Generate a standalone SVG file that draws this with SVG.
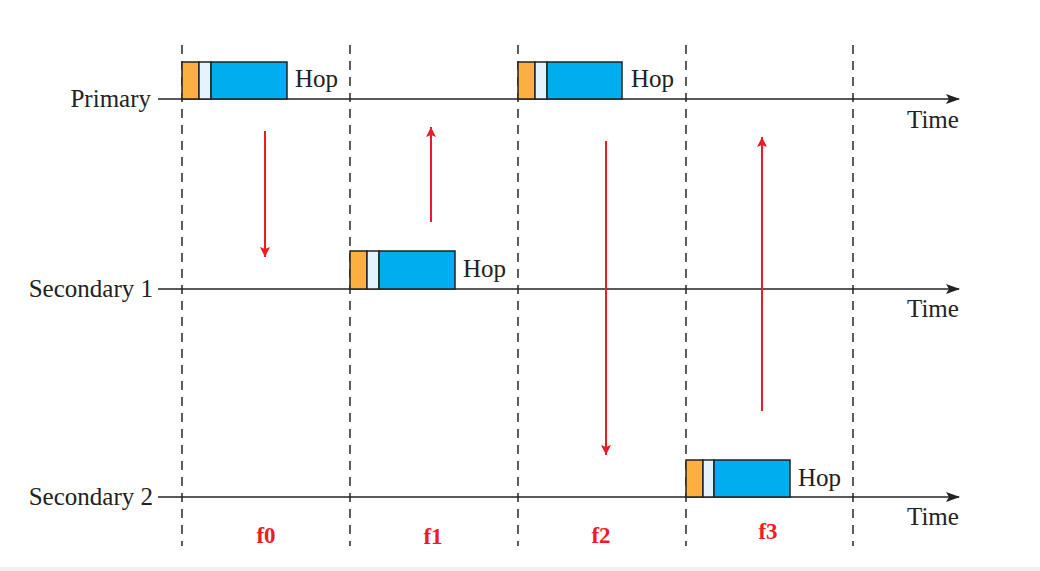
<svg xmlns="http://www.w3.org/2000/svg" width="1040" height="571" viewBox="0 0 1040 571">
<defs>
<style>
.dash{stroke:#333;stroke-width:1.6;stroke-dasharray:9,7;fill:none}
.axis{stroke:#222;stroke-width:1.5;fill:none}
.red{stroke:#ED1C24;stroke-width:2;fill:none}
.t{font-family:"Liberation Serif",serif;font-size:25px;fill:#222}
.f{font-family:"Liberation Serif",serif;font-size:23px;font-weight:bold;fill:#ED1C24;text-anchor:middle}
.o{fill:#FBB040;stroke:#222;stroke-width:1.5}
.l{fill:#E4F4FD;stroke:#222;stroke-width:1.5}
.b{fill:#00AEEF;stroke:#222;stroke-width:1.5}
</style>
<marker id="ah" markerWidth="14" markerHeight="10" refX="13" refY="5" orient="auto" markerUnits="userSpaceOnUse"><path d="M0,0 L14,5 L0,10 L3,5 z" fill="#222"/></marker>
<marker id="rh" markerWidth="10" markerHeight="12" refX="10" refY="5" orient="auto" markerUnits="userSpaceOnUse"><path d="M0,0 L10,5 L0,10 L2,5 z" fill="#ED1C24"/></marker>
</defs>
<rect x="0" y="0" width="1040" height="571" fill="#fff"/>
<rect x="0" y="567" width="1040" height="4" fill="#f0f0f0"/>
<g id="gridlines">
<line class="dash" x1="182" y1="45" x2="182" y2="546"/>
<line class="dash" x1="350" y1="45" x2="350" y2="546"/>
<line class="dash" x1="518" y1="45" x2="518" y2="546"/>
<line class="dash" x1="686" y1="45" x2="686" y2="546"/>
<line class="dash" x1="853" y1="45" x2="853" y2="546"/>
</g>
<g id="axes">
<line class="axis" x1="158" y1="99" x2="959" y2="99" marker-end="url(#ah)"/>
<line class="axis" x1="158" y1="289" x2="959" y2="289" marker-end="url(#ah)"/>
<line class="axis" x1="158" y1="497" x2="959" y2="497" marker-end="url(#ah)"/>
</g>
<g id="labels">
<text class="t" x="151" y="107" text-anchor="end">Primary</text>
<text class="t" x="153" y="297" text-anchor="end">Secondary 1</text>
<text class="t" x="153" y="505" text-anchor="end">Secondary 2</text>
<text class="t" x="907" y="128">Time</text>
<text class="t" x="907" y="317">Time</text>
<text class="t" x="907" y="525">Time</text>
</g>
<g id="hop-p1">
<rect class="o" x="182" y="62" width="17" height="37"/>
<rect class="l" x="199" y="62" width="12" height="37"/>
<rect class="b" x="211" y="62" width="76" height="37"/>
<text class="t" x="295" y="87">Hop</text>
</g>
<g id="hop-p2">
<rect class="o" x="518" y="62" width="17" height="37"/>
<rect class="l" x="535" y="62" width="12" height="37"/>
<rect class="b" x="547" y="62" width="75" height="37"/>
<text class="t" x="631" y="87">Hop</text>
</g>
<g id="hop-s1">
<rect class="o" x="350" y="251" width="17" height="38"/>
<rect class="l" x="367" y="251" width="12" height="38"/>
<rect class="b" x="379" y="251" width="76" height="38"/>
<text class="t" x="463" y="277">Hop</text>
</g>
<g id="hop-s2">
<rect class="o" x="686" y="460" width="17" height="37"/>
<rect class="l" x="703" y="460" width="11" height="37"/>
<rect class="b" x="714" y="460" width="76" height="37"/>
<text class="t" x="798" y="486">Hop</text>
</g>
<g id="connectors">
<line class="red" x1="265" y1="131" x2="265" y2="257" marker-end="url(#rh)"/>
<line class="red" x1="431" y1="222" x2="431" y2="127" marker-end="url(#rh)"/>
<line class="red" x1="606" y1="141" x2="606" y2="455" marker-end="url(#rh)"/>
<line class="red" x1="762" y1="411" x2="762" y2="137" marker-end="url(#rh)"/>
</g>
<g id="freqs">
<text class="f" x="266" y="543">f0</text>
<text class="f" x="433" y="544">f1</text>
<text class="f" x="601" y="543">f2</text>
<text class="f" x="768" y="539">f3</text>
</g>
</svg>
